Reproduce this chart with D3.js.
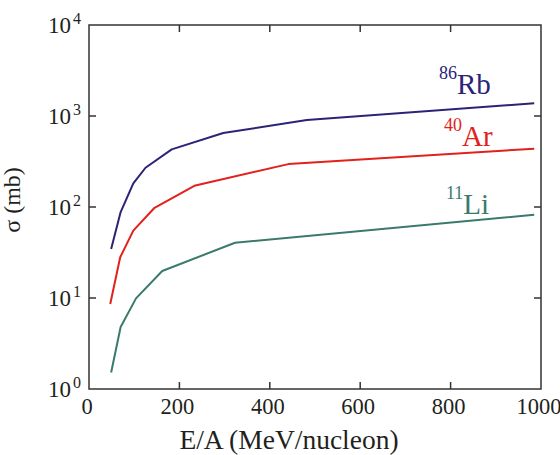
<!DOCTYPE html>
<html>
<head>
<meta charset="utf-8">
<script src="https://cdn.jsdelivr.net/npm/d3@7"></script>
<style>
    body { margin: 0; background: #fff; }
    svg text { font-family: 'Liberation Serif', 'Times New Roman', Times, serif; fill: #231f20; }
    .frame { fill: none; stroke: #333; stroke-width: 1.5; }
    .tick { stroke: #333; stroke-width: 1.5; }
    .curve { fill: none; stroke-width: 2; stroke-linejoin: round; }
</style>
</head>
<body>
<svg id="chart" width="560" height="455"></svg>
<script>
/*
 Data
 */

var rbE = [49, 70, 98, 125, 183, 297, 482, 985];
var rbS = [34.5, 88, 182, 270, 430, 650, 904, 1380];

var arE = [47, 69, 98, 144, 233, 441, 985];
var arS = [8.6, 28, 55, 97, 171, 296, 437];

var liE = [49, 70, 104, 162, 323, 985];
var liS = [1.52, 4.8, 9.9, 19.8, 40.5, 82];

var xTicks = [0, 200, 400, 600, 800, 1000];
var yTicks = [1, 10, 100, 1000, 10000];

var seriesList = [
    {id: 'rb', mass: '86', el: 'Rb', e: rbE, s: rbS, color: '#2a2377', lx: 439, ly: 94},
    {id: 'ar', mass: '40', el: 'Ar', e: arE, s: arS, color: '#e2211c', lx: 444, ly: 146},
    {id: 'li', mass: '11', el: 'Li', e: liE, s: liS, color: '#3a7a6c', lx: 446, ly: 214}
];

/*
 Layout
 */

var LEFT = 89, RIGHT = 541, TOP = 25, BOTTOM = 389;
var TICK_LEN = 7;

var svg = d3.select('#chart');

var x = d3.scaleLinear().domain([0, 1000]).range([LEFT, RIGHT]);
var y = d3.scaleLog().domain([1, 10000]).range([BOTTOM, TOP]);

/*
 Frame and ticks
 */

svg.append('rect')
    .classed('frame', true)
    .attr('x', LEFT)
    .attr('y', TOP)
    .attr('width', RIGHT - LEFT)
    .attr('height', BOTTOM - TOP);

var inner = xTicks.slice(1, -1);

svg.selectAll('.xtickB')
    .data(inner)
    .enter().append('line')
    .classed('tick', true)
    .attr('x1', function (d) { return x(d); })
    .attr('x2', function (d) { return x(d); })
    .attr('y1', BOTTOM)
    .attr('y2', BOTTOM - TICK_LEN);

svg.selectAll('.xtickT')
    .data(inner)
    .enter().append('line')
    .classed('tick', true)
    .attr('x1', function (d) { return x(d); })
    .attr('x2', function (d) { return x(d); })
    .attr('y1', TOP)
    .attr('y2', TOP + TICK_LEN);

var innerY = yTicks.slice(1, -1);

svg.selectAll('.ytickL')
    .data(innerY)
    .enter().append('line')
    .classed('tick', true)
    .attr('x1', LEFT)
    .attr('x2', LEFT + TICK_LEN)
    .attr('y1', function (d) { return y(d); })
    .attr('y2', function (d) { return y(d); });

svg.selectAll('.ytickR')
    .data(innerY)
    .enter().append('line')
    .classed('tick', true)
    .attr('x1', RIGHT)
    .attr('x2', RIGHT - TICK_LEN)
    .attr('y1', function (d) { return y(d); })
    .attr('y2', function (d) { return y(d); });

/*
 Tick labels
 */

svg.selectAll('.xlab')
    .data(xTicks)
    .enter().append('text')
    .attr('x', function (d) { return x(d) - 2; })
    .attr('y', 414)
    .attr('text-anchor', 'middle')
    .attr('font-size', 22.5)
    .text(function (d) { return d; });

var ylab = svg.selectAll('.ylab')
    .data(yTicks)
    .enter().append('text')
    .attr('x', 48)
    .attr('y', function (d) { return y(d) + 8; })
    .attr('font-size', 23);

ylab.append('tspan').text('10');
ylab.append('tspan')
    .attr('dx', 2)
    .attr('dy', -9)
    .attr('font-size', 16)
    .text(function (d) { return Math.round(Math.log10(d)); });

/*
 Axis titles
 */

svg.append('text')
    .attr('x', 289)
    .attr('y', 449)
    .attr('text-anchor', 'middle')
    .attr('font-size', 27.5)
    .text('E/A (MeV/nucleon)');

svg.append('text')
    .attr('transform', 'translate(20,200) rotate(-90)')
    .attr('text-anchor', 'middle')
    .attr('font-size', 24)
    .text('σ (mb)');

/*
 Curves
 */

var line = d3.line()
    .x(function (d) { return x(d[0]); })
    .y(function (d) { return y(d[1]); });

svg.selectAll('.curve')
    .data(seriesList, function (d) { return d.id; })
    .enter().append('path')
    .classed('curve', true)
    .attr('stroke', function (d) { return d.color; })
    .attr('d', function (d) {
        return line(d.e.map(function (v, i) { return [v, d.s[i]]; }));
    });

var lab = svg.selectAll('.serLabel')
    .data(seriesList)
    .enter().append('text')
    .attr('x', function (d) { return d.lx; })
    .attr('y', function (d) { return d.ly - 15.5; })
    .style('fill', function (d) { return d.color; });

lab.append('tspan')
    .attr('font-size', 18)
    .text(function (d) { return d.mass; });
lab.append('tspan')
    .attr('dx', 0)
    .attr('dy', 15.5)
    .attr('font-size', 29)
    .text(function (d) { return d.el; });
</script>
</body>
</html>
